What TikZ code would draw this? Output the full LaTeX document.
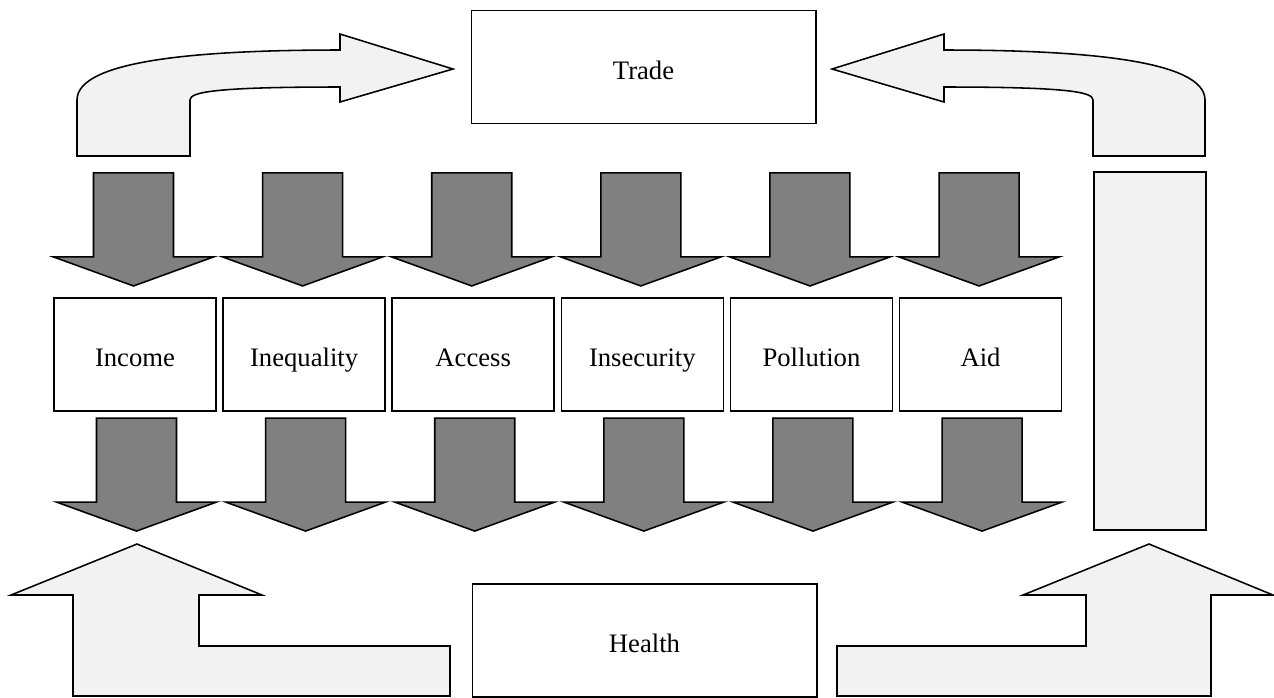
\documentclass[tikz,border=0pt]{standalone}
\usepackage{fontspec}
\setmainfont{Liberation Serif}
\usetikzlibrary{positioning,calc}
\definecolor{lightfill}{HTML}{F2F2F2}
\definecolor{darkfill}{HTML}{808080}

\tikzset{
	factor/.style={draw, line width=0.7pt, minimum width=72.9pt, minimum height=50.9pt, inner sep=0pt, outer sep=0pt, text height=11pt, text depth=0pt, font=\fontsize{12}{14}\selectfont},
	bigbox/.style={factor, minimum width=155pt},
	flow/.style={draw, line width=0.7pt, fill=lightfill},
	push/.style={draw, line width=0.7pt, fill=darkfill},
	downblock/.pic={
		\path[push] (0,0) -- (80,-29) -- (40,-29) -- (40,-113) -- (-40,-113) -- (-40,-29) -- (-80,-29) -- cycle;
	}
}

\begin{document}
\begin{tikzpicture}[x=0.45pt,y=-0.45pt]
		\useasboundingbox (0,0) rectangle (1274,697);
		
		% the six channels
		\node[factor] (income) at (135,354.5) {Income};
		\node[factor, right=3.2pt of income] (inequality) {Inequality};
		\node[factor, right=3.2pt of inequality] (access) {Access};
		\node[factor, right=3.2pt of access] (insecurity) {Insecurity};
		\node[factor, right=3.2pt of insecurity] (pollution) {Pollution};
		\node[factor, right=3.2pt of pollution] (aid) {Aid};
		
		\node[bigbox] (trade) at (643.5,67) {Trade};
		\node[bigbox] (health) at (644.5,640.5) {Health};
		\node[flow, minimum width=50.4pt, minimum height=161.1pt, inner sep=0pt] (loop) at (1150,351) {};
		
		\foreach \f in {income,inequality,access,insecurity,pollution,aid}{
			\pic at ($(\f.north)+(-1.5,-12)$) {downblock};
			\pic at ($(\f.south)+(1.5,120)$) {downblock};
		}
		
		% curved arrows into trade
		\path[flow] (77,156) -- (77,100) .. controls (77,60) and (200,50) .. (340,50) -- (340,34) -- (453,69) -- (340,102) -- (340,87) .. controls (215,87) and (190,92) .. (190,100) -- (190,156) -- cycle;
		\path[flow] (1205,156) -- (1205,100) .. controls (1205,60) and (1082,50) .. (944,50) -- (944,34) -- (832,69) -- (944,102) -- (944,87) .. controls (1068,87) and (1093,92) .. (1093,100) -- (1093,156) -- cycle;
		
		% arrows out of health
		\path[flow] (137,544) -- (262,595) -- (199,595) -- (199,646) -- (450,646) -- (450,696) -- (73,696) -- (73,595) -- (11,595) -- cycle;
		\path[flow] (1149,544) -- (1273,595) -- (1211,595) -- (1211,696) -- (837,696) -- (837,646) -- (1086,646) -- (1086,595) -- (1023,595) -- cycle;
\end{tikzpicture}
\end{document}
